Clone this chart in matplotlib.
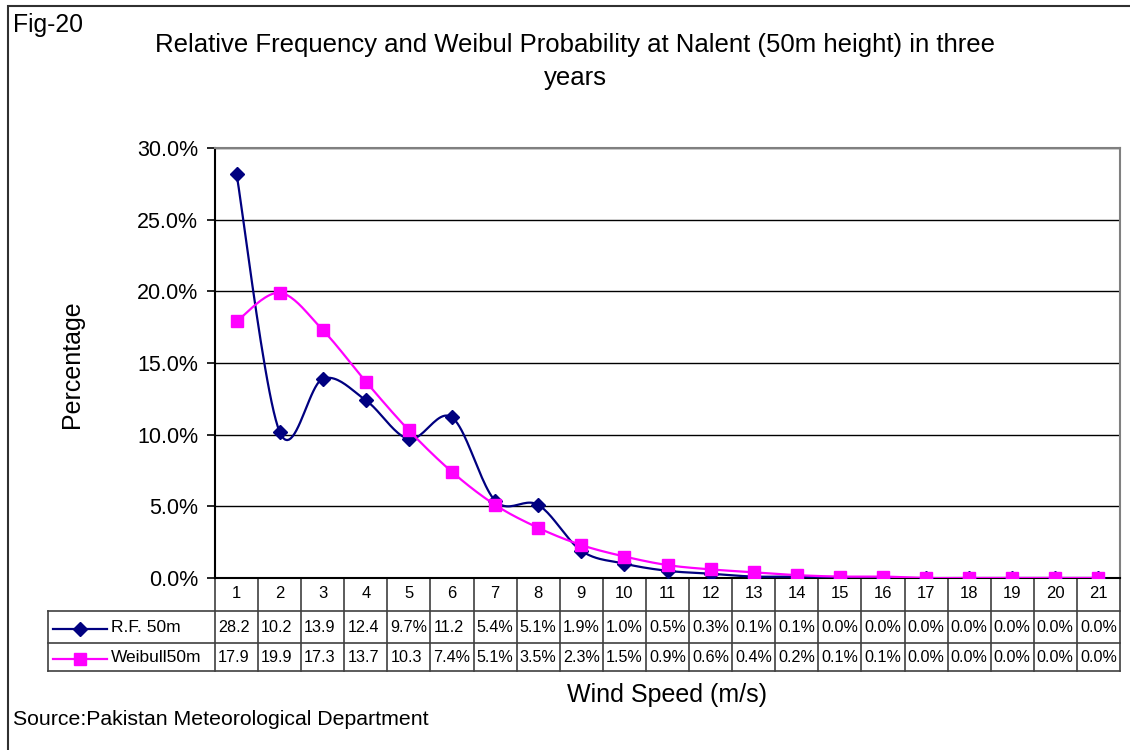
import numpy as np
import matplotlib
matplotlib.use("Agg")
import matplotlib.pyplot as plt
from matplotlib.patches import Rectangle

plt.rcParams["font.family"] = ["Liberation Sans", "DejaVu Sans"]

############################################## data ##############################################
speed       = list(range(1, 22))
rf_50m      = [28.2, 10.2, 13.9, 12.4, 9.7, 11.2, 5.4, 5.1, 1.9, 1.0, 0.5,
               0.3, 0.1, 0.1, 0.0, 0.0, 0.0, 0.0, 0.0, 0.0, 0.0]
weibull_50m = [17.9, 19.9, 17.3, 13.7, 10.3, 7.4, 5.1, 3.5, 2.3, 1.5, 0.9,
               0.6, 0.4, 0.2, 0.1, 0.1, 0.0, 0.0, 0.0, 0.0, 0.0]
names       = ["R.F. 50m", "Weibull50m"]
y_ticks     = [0, 5, 10, 15, 20, 25, 30]

############################################## layout (pixels) ###################################
W, H = 1130, 750
L, R, T, B = 215, 1120, 148, 578
row_lines = [611, 643, 671]
row_mid = [629, 659]
colors = ["#000080", "#FF00FF"]
marks = ["D", "s"]
msizes = [7.0, 8.8]
line_c = "#404040"


def smooth(xs, ys, steps=24):
    # excel style smoothed line: cubic bezier, control points from neighbours / 6
    p = np.column_stack([xs, ys]).astype(float)
    p = np.vstack([p[0], p, p[-1]])
    t = np.linspace(0, 1, steps)[:, None]
    out = []
    for i in range(1, len(p) - 2):
        a, d = p[i], p[i + 1]
        b = a + (p[i + 1] - p[i - 1]) / 6
        c = d - (p[i + 2] - p[i]) / 6
        seg = (1 - t)**3 * a + 3 * (1 - t)**2 * t * b + 3 * (1 - t) * t**2 * c + t**3 * d
        out.append(seg if i == 1 else seg[1:])
    out = np.vstack(out)
    return out[:, 0], out[:, 1]


def dx(px):
    return 0.5 + (px - L) * 21 / (R - L)


def ay(py):
    return (B - py) / (B - T)


fig = plt.figure(figsize=(11.3, 7.5), dpi=100)
ax = fig.add_axes([L / W, 1 - B / H, (R - L) / W, (B - T) / H])

for n, data in enumerate([rf_50m, weibull_50m]):
    sx, sy = smooth(speed, data)
    ax.plot(sx, sy, color=colors[n], lw=1.6, zorder=3 + n)
    ax.plot(speed, data, marks[n], color=colors[n], ms=msizes[n], zorder=3 + n)

ax.set_xlim(0.5, 21.5)
ax.set_ylim(0, 30)
ax.set_xticks([])
ax.set_yticks(y_ticks)
ax.set_yticklabels([f"{v:.1f}%" for v in y_ticks], fontsize=15.5)
ax.tick_params(axis="y", length=6, width=1.2, pad=6)
ax.yaxis.grid(True, color="#000000", lw=1)
ax.set_axisbelow(True)
for s in ["top", "right"]:
    ax.spines[s].set_color("#808080")
    ax.spines[s].set_linewidth(1.5)
for s in ["left", "bottom"]:
    ax.spines[s].set_linewidth(1.5)

############################################## data table ########################################
tr = ax.get_xaxis_transform()
for py in row_lines:
    ax.plot([dx(48), 21.5], [ay(py)] * 2, transform=tr, clip_on=False, color=line_c, lw=1.2)
for k in range(22):
    ax.plot([0.5 + k] * 2, [ay(B), ay(671)], transform=tr, clip_on=False, color=line_c, lw=1.2)
ax.plot([dx(48)] * 2, [ay(611), ay(671)], transform=tr, clip_on=False, color=line_c, lw=1.2)

for s in speed:
    ax.text(s, ay(594), str(s), transform=tr, ha="center", va="center", fontsize=12, clip_on=False)

for n, data in enumerate([rf_50m, weibull_50m]):
    for s, v in zip(speed, data):
        label = f"{v:.1f}%" if v < 10 else f"{v:.1f}"
        ax.text(s - 0.5 + 3 * 21 / (R - L), ay(row_mid[n] - 1), label, transform=tr,
                ha="left", va="center", fontsize=11.6, clip_on=False)
    ax.plot([dx(53), dx(107)], [ay(row_mid[n])] * 2, transform=tr, clip_on=False, color=colors[n], lw=1.6)
    ax.plot([dx(80)], [ay(row_mid[n])], marks[n], transform=tr, clip_on=False, color=colors[n], ms=msizes[n])
    ax.text(dx(111), ay(row_mid[n] - 1), names[n], transform=tr, ha="left", va="center",
            fontsize=12.5, clip_on=False)

############################################## texts #############################################
fig.text(575 / W, 1 - 52 / H, "Relative Frequency and Weibul Probability at Nalent (50m height) in three",
         ha="center", va="baseline", fontsize=18.5)
fig.text(575 / W, 1 - 85 / H, "years", ha="center", va="baseline", fontsize=18.5)
fig.text(72 / W, 1 - 364 / H, "Percentage", rotation=90, ha="center", va="center", fontsize=18)
fig.text(667 / W, 1 - 702 / H, "Wind Speed (m/s)", ha="center", va="baseline", fontsize=18)
fig.text(13 / W, 1 - 725 / H, "Source:Pakistan Meteorological Department", ha="left", va="baseline", fontsize=15.3)
fig.text(13 / W, 1 - 32 / H, "Fig-20", ha="left", va="baseline", fontsize=17.8)

fig.patches.append(Rectangle((8 / W, -0.1), 1.0, 1.1 - 6 / H, transform=fig.transFigure,
                             fill=False, ec="#303030", lw=1.5))

fig.savefig("out.png", dpi=100)
